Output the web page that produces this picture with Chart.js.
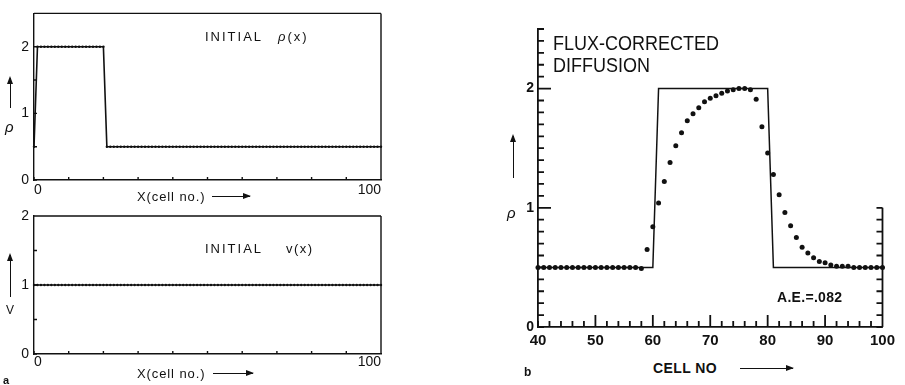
<!DOCTYPE html>
<html>
<head>
<meta charset="utf-8">
<script src="https://cdn.jsdelivr.net/npm/chart.js@4.4.1/dist/chart.umd.min.js"></script>
<style>
  body { margin: 0; background: #fff; }
  #page { position: relative; width: 905px; height: 385px; overflow: hidden; font-family: "Liberation Sans", Arial, sans-serif; color: #111; }
  .box { position: absolute; }
  .txt { position: absolute; white-space: nowrap; line-height: 1; }
  .it { font-style: italic; }
  .harrow { position: absolute; height: 0; border-top: 1.3px solid #111; }
  .harrow::after { content: ''; position: absolute; right: -1px; top: -4.5px; border-left: 8px solid #111; border-top: 3.5px solid transparent; border-bottom: 3.5px solid transparent; }
  .varrow { position: absolute; width: 0; border-left: 1.3px solid #111; }
  .varrow::before { content: ''; position: absolute; left: -4.3px; top: -2px; border-bottom: 8px solid #111; border-left: 3.5px solid transparent; border-right: 3.5px solid transparent; }
</style>
</head>
<body>
<div id="page">
  <div class="box" style="left:0;top:0;"><canvas id="rhoChart" width="400" height="200"></canvas></div>
  <div class="box" style="left:0;top:200px;"><canvas id="vChart" width="400" height="175"></canvas></div>
  <div class="box" style="left:490px;top:0;"><canvas id="fctChart" width="410" height="360"></canvas></div>

  <!-- panel a, top -->
  <div class="txt" style="left:205px;top:29.5px;font-size:13px;letter-spacing:2px;">INITIAL</div>
  <div class="txt" style="left:278px;top:29.5px;font-size:13px;letter-spacing:2px;"><span class="it">ρ</span>(x)</div>
  <div class="txt it" style="left:5px;top:119px;font-size:15px;">ρ</div>
  <div class="varrow" style="left:10px;top:78px;height:30px;"></div>
  <div class="txt" style="left:137px;top:189.5px;font-size:13px;letter-spacing:0.9px;">X(cell no.)</div>
  <div class="harrow" style="left:212px;top:196px;width:38px;"></div>

  <!-- panel a, bottom -->
  <div class="txt" style="left:205px;top:241.5px;font-size:13px;letter-spacing:2px;">INITIAL</div>
  <div class="txt" style="left:286px;top:241.5px;font-size:13px;letter-spacing:1.5px;">v(x)</div>
  <div class="txt" style="left:6px;top:304px;font-size:12px;">V</div>
  <div class="varrow" style="left:10px;top:255px;height:42px;"></div>
  <div class="txt" style="left:137px;top:366.5px;font-size:13px;letter-spacing:0.9px;">X(cell no.)</div>
  <div class="harrow" style="left:213px;top:373px;width:40px;"></div>
  <div class="txt" style="left:3px;top:375px;font-size:11px;font-weight:bold;">a</div>

  <!-- panel b -->
  <div class="txt" style="left:553px;top:33px;font-size:18px;transform:scaleY(1.12);transform-origin:left top;">FLUX-CORRECTED</div>
  <div class="txt" style="left:553px;top:55px;font-size:18px;transform:scaleY(1.12);transform-origin:left top;">DIFFUSION</div>
  <div class="txt it" style="left:507px;top:205px;font-size:15px;">ρ</div>
  <div class="varrow" style="left:513px;top:136px;height:42px;"></div>
  <div class="txt" style="left:777px;top:290px;font-size:14px;font-weight:bold;letter-spacing:0.3px;">A.E.=.082</div>
  <div class="txt" style="left:653px;top:361px;font-size:14px;font-weight:bold;letter-spacing:0.4px;">CELL NO</div>
  <div class="harrow" style="left:740px;top:368px;width:53px;"></div>
  <div class="txt" style="left:524px;top:366px;font-size:12px;font-weight:bold;">b</div>
</div>

<script>
// ---- values ----
var cellsA = [
    0,
    1, 2, 3, 4, 5, 6, 7, 8, 9, 10,
    11, 12, 13, 14, 15, 16, 17, 18, 19, 20,
    21, 22, 23, 24, 25, 26, 27, 28, 29, 30,
    31, 32, 33, 34, 35, 36, 37, 38, 39, 40,
    41, 42, 43, 44, 45, 46, 47, 48, 49, 50,
    51, 52, 53, 54, 55, 56, 57, 58, 59, 60,
    61, 62, 63, 64, 65, 66, 67, 68, 69, 70,
    71, 72, 73, 74, 75, 76, 77, 78, 79, 80,
    81, 82, 83, 84, 85, 86, 87, 88, 89, 90,
    91, 92, 93, 94, 95, 96, 97, 98, 99, 100
];
var rhoInitial = [
    0.5,
    2, 2, 2, 2, 2, 2, 2, 2, 2, 2,
    2, 2, 2, 2, 2, 2, 2, 2, 2, 2,
    0.5, 0.5, 0.5, 0.5, 0.5, 0.5, 0.5, 0.5, 0.5, 0.5,
    0.5, 0.5, 0.5, 0.5, 0.5, 0.5, 0.5, 0.5, 0.5, 0.5,
    0.5, 0.5, 0.5, 0.5, 0.5, 0.5, 0.5, 0.5, 0.5, 0.5,
    0.5, 0.5, 0.5, 0.5, 0.5, 0.5, 0.5, 0.5, 0.5, 0.5,
    0.5, 0.5, 0.5, 0.5, 0.5, 0.5, 0.5, 0.5, 0.5, 0.5,
    0.5, 0.5, 0.5, 0.5, 0.5, 0.5, 0.5, 0.5, 0.5, 0.5,
    0.5, 0.5, 0.5, 0.5, 0.5, 0.5, 0.5, 0.5, 0.5, 0.5,
    0.5, 0.5, 0.5, 0.5, 0.5, 0.5, 0.5, 0.5, 0.5, 0.5
];
var vInitial = [
    1,
    1, 1, 1, 1, 1, 1, 1, 1, 1, 1,
    1, 1, 1, 1, 1, 1, 1, 1, 1, 1,
    1, 1, 1, 1, 1, 1, 1, 1, 1, 1,
    1, 1, 1, 1, 1, 1, 1, 1, 1, 1,
    1, 1, 1, 1, 1, 1, 1, 1, 1, 1,
    1, 1, 1, 1, 1, 1, 1, 1, 1, 1,
    1, 1, 1, 1, 1, 1, 1, 1, 1, 1,
    1, 1, 1, 1, 1, 1, 1, 1, 1, 1,
    1, 1, 1, 1, 1, 1, 1, 1, 1, 1,
    1, 1, 1, 1, 1, 1, 1, 1, 1, 1
];
var rhoTickLabels = [0, 1, 2];
var vTickLabels = [0, 1, 2];
var cellTickLabelsA = [0, 100];

var cellsB = [
    40, 41, 42, 43, 44, 45, 46, 47, 48, 49,
    50, 51, 52, 53, 54, 55, 56, 57, 58, 59,
    60, 61, 62, 63, 64, 65, 66, 67, 68, 69,
    70, 71, 72, 73, 74, 75, 76, 77, 78, 79,
    80, 81, 82, 83, 84, 85, 86, 87, 88, 89,
    90, 91, 92, 93, 94, 95, 96, 97, 98, 99,
    100
];
var rhoExact = [
    0.5, 0.5, 0.5, 0.5, 0.5, 0.5, 0.5, 0.5, 0.5, 0.5,
    0.5, 0.5, 0.5, 0.5, 0.5, 0.5, 0.5, 0.5, 0.5, 0.5,
    0.5, 2, 2, 2, 2, 2, 2, 2, 2, 2,
    2, 2, 2, 2, 2, 2, 2, 2, 2, 2,
    2, 0.5, 0.5, 0.5, 0.5, 0.5, 0.5, 0.5, 0.5, 0.5,
    0.5, 0.5, 0.5, 0.5, 0.5, 0.5, 0.5, 0.5, 0.5, 0.5,
    0.5
];
var rhoFct = [
    0.50, 0.50, 0.50, 0.50, 0.50, 0.50, 0.50, 0.50, 0.50, 0.50,
    0.50, 0.50, 0.50, 0.50, 0.50, 0.50, 0.50, 0.50, 0.49, 0.65,
    0.84, 1.04, 1.22, 1.38, 1.52, 1.63, 1.73, 1.79, 1.84, 1.89,
    1.92, 1.94, 1.96, 1.98, 1.99, 2.00, 2.00, 1.99, 1.91, 1.68,
    1.46, 1.28, 1.11, 0.96, 0.85, 0.75, 0.67, 0.62, 0.58, 0.55,
    0.54, 0.52, 0.51, 0.51, 0.51, 0.50, 0.50, 0.50, 0.50, 0.50,
    0.50
];
var rhoTickLabelsB = [0, 1, 2];
var cellTickLabelsB = [40, 50, 60, 70, 80, 90, 100];

Chart.defaults.font.family = '"Liberation Sans", Arial, sans-serif';
Chart.defaults.color = '#111';

function range(a, b, step) {
    var out = [];
    for (var i = 0; a + i * step <= b + 1e-9; i++) out.push(Math.round((a + i * step) * 1000) / 1000);
    return out;
}

// frame sides and inward tick marks for each canvas
var frames = {
    rhoChart: {
        lineWidth: 1.4,
        spines: [{ side: 'top' }, { side: 'right' }],
        ticks: [
            { side: 'left', values: range(0, 2.5, 0.5), len: 3 },
            { side: 'bottom', values: range(0, 100, 10), len: 3 }
        ]
    },
    vChart: {
        lineWidth: 1.4,
        spines: [{ side: 'top' }, { side: 'right' }],
        ticks: [
            { side: 'left', values: range(0, 2, 0.5), len: 3 },
            { side: 'bottom', values: range(0, 100, 10), len: 3 }
        ]
    },
    fctChart: {
        lineWidth: 1.8,
        spines: [{ side: 'right', from: 0, to: 1 }],
        ticks: [
            { side: 'left', values: range(0, 2.5, 0.1), len: 6, major: [1, 2], majorLen: 13 },
            { side: 'right', values: range(0, 1, 0.1), len: 6 },
            { side: 'bottom', values: range(40, 100, 2), len: 6, major: [50, 60, 70, 80, 90], majorLen: 12 }
        ]
    }
};

var framePlugin = {
    id: 'frame',
    afterDraw: function (chart) {
        var f = frames[chart.canvas.id];
        if (!f) return;
        var ctx = chart.ctx, a = chart.chartArea, sx = chart.scales.x, sy = chart.scales.y;
        ctx.save();
        ctx.strokeStyle = '#111';
        ctx.lineWidth = f.lineWidth;
        ctx.beginPath();
        f.spines.forEach(function (s) {
            if (s.side === 'top') { ctx.moveTo(a.left, a.top); ctx.lineTo(a.right, a.top); }
            if (s.side === 'right') {
                var y1 = s.from == null ? a.bottom : sy.getPixelForValue(s.from);
                var y2 = s.to == null ? a.top : sy.getPixelForValue(s.to);
                ctx.moveTo(a.right, y1); ctx.lineTo(a.right, y2);
            }
        });
        f.ticks.forEach(function (t) {
            t.values.forEach(function (v) {
                var len = (t.major && t.major.indexOf(v) >= 0) ? t.majorLen : t.len;
                var p;
                if (t.side === 'left') { p = sy.getPixelForValue(v); ctx.moveTo(a.left, p); ctx.lineTo(a.left + len, p); }
                if (t.side === 'right') { p = sy.getPixelForValue(v); ctx.moveTo(a.right, p); ctx.lineTo(a.right - len, p); }
                if (t.side === 'bottom') { p = sx.getPixelForValue(v); ctx.moveTo(p, a.bottom); ctx.lineTo(p, a.bottom - len); }
            });
        });
        ctx.stroke();
        ctx.restore();
    }
};
Chart.register(framePlugin);

// panel a, top: initial rho
new Chart(document.getElementById('rhoChart'), {
    type: 'line',
    data: {
        labels: cellsA,
        datasets: [{
            data: rhoInitial,
            borderColor: '#111', borderWidth: 1.6,
            pointRadius: 1.2, pointBackgroundColor: '#111', pointBorderWidth: 0,
            clip: false
        }]
    },
    options: {
        responsive: false, animation: false, events: [],
        layout: { padding: { top: 6, right: 19 } },
        plugins: { legend: { display: false }, tooltip: { enabled: false } },
        scales: {
            x: {
                type: 'linear', min: 0, max: 100,
                grid: { display: false, drawTicks: false },
                border: { color: '#111', width: 1.4 },
                afterBuildTicks: function (s) { s.ticks = cellTickLabelsA.map(function (v) { return { value: v }; }); },
                afterFit: function (s) { s.height = 20; },
                ticks: { align: 'inner', padding: 2, maxRotation: 0, font: { size: 14 } }
            },
            y: {
                min: 0, max: 2.5,
                grid: { display: false, drawTicks: false },
                border: { color: '#111', width: 1.4 },
                afterBuildTicks: function (s) { s.ticks = rhoTickLabels.map(function (v) { return { value: v }; }); },
                afterFit: function (s) { s.width = 34; },
                ticks: { padding: 5, font: { size: 14 } }
            }
        }
    }
});

// panel a, bottom: initial v
new Chart(document.getElementById('vChart'), {
    type: 'line',
    data: {
        labels: cellsA,
        datasets: [{
            data: vInitial,
            borderColor: '#111', borderWidth: 1.6,
            pointRadius: 1.2, pointBackgroundColor: '#111', pointBorderWidth: 0,
            clip: false
        }]
    },
    options: {
        responsive: false, animation: false, events: [],
        layout: { padding: { top: 16, right: 19 } },
        plugins: { legend: { display: false }, tooltip: { enabled: false } },
        scales: {
            x: {
                type: 'linear', min: 0, max: 100,
                grid: { display: false, drawTicks: false },
                border: { color: '#111', width: 1.4 },
                afterBuildTicks: function (s) { s.ticks = cellTickLabelsA.map(function (v) { return { value: v }; }); },
                afterFit: function (s) { s.height = 21; },
                ticks: { align: 'inner', padding: 0, maxRotation: 0, font: { size: 14 } }
            },
            y: {
                min: 0, max: 2,
                grid: { display: false, drawTicks: false },
                border: { color: '#111', width: 1.4 },
                afterBuildTicks: function (s) { s.ticks = vTickLabels.map(function (v) { return { value: v }; }); },
                afterFit: function (s) { s.width = 34; },
                ticks: { padding: 5, font: { size: 14 } }
            }
        }
    }
});

// panel b: flux-corrected diffusion after transport
new Chart(document.getElementById('fctChart'), {
    type: 'line',
    data: {
        labels: cellsB,
        datasets: [{
            data: rhoExact,
            borderColor: '#111', borderWidth: 1.5,
            pointRadius: 0
        }, {
            data: rhoFct,
            showLine: false,
            pointRadius: 2.5, pointBackgroundColor: '#111', pointBorderWidth: 0,
            clip: false
        }]
    },
    options: {
        responsive: false, animation: false, events: [],
        layout: { padding: { top: 29, right: 14 } },
        plugins: { legend: { display: false }, tooltip: { enabled: false } },
        scales: {
            x: {
                type: 'linear', min: 40, max: 100,
                grid: { display: false, drawTicks: false },
                border: { color: '#111', width: 1.8 },
                afterBuildTicks: function (s) { s.ticks = cellTickLabelsB.map(function (v) { return { value: v }; }); },
                afterFit: function (s) { s.height = 33; },
                ticks: { padding: 5, maxRotation: 0, font: { size: 15, weight: 'bold' } }
            },
            y: {
                min: 0, max: 2.5,
                grid: { display: false, drawTicks: false },
                border: { color: '#111', width: 1.8 },
                afterBuildTicks: function (s) { s.ticks = rhoTickLabelsB.map(function (v) { return { value: v }; }); },
                afterFit: function (s) { s.width = 48; },
                ticks: { padding: 4, font: { size: 14, weight: 'bold' } }
            }
        }
    }
});
</script>
</body>
</html>
